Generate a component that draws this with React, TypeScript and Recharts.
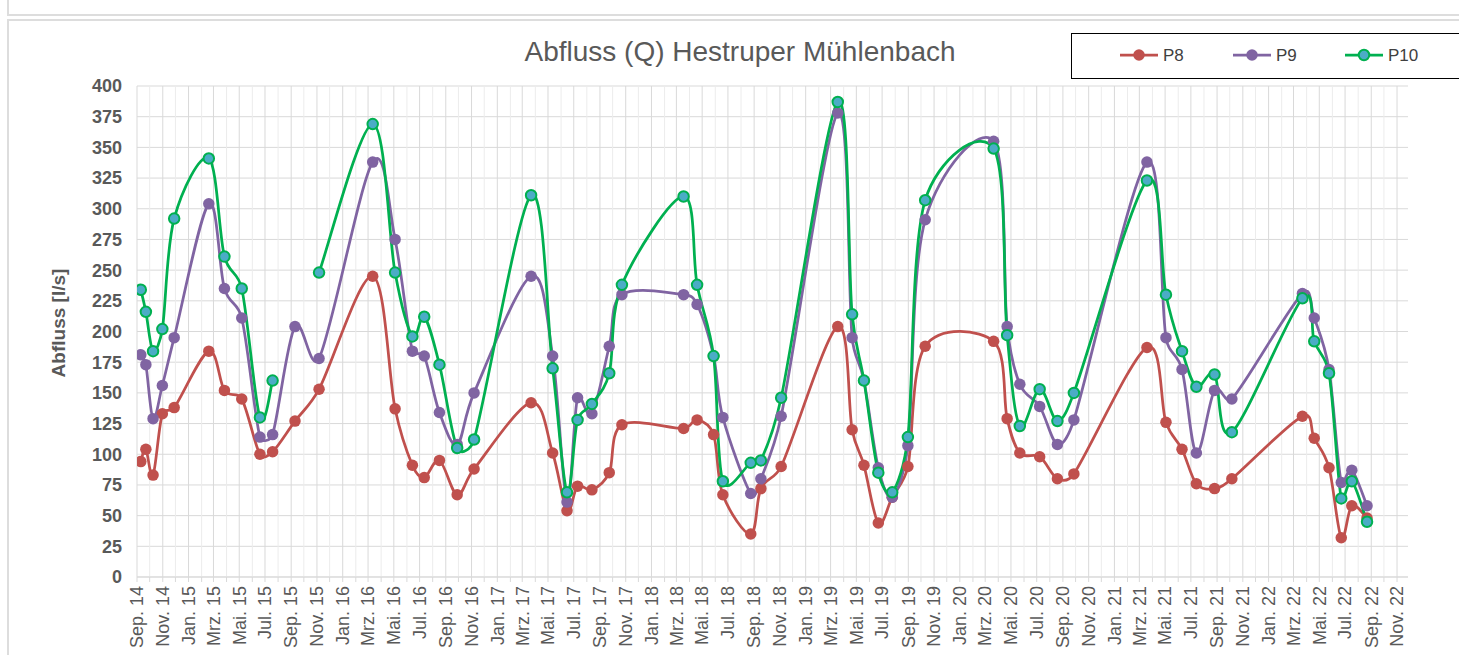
import React from "react";
import { LineChart, Line, XAxis, YAxis, CartesianGrid, ReferenceLine } from "recharts";

const FONT = '"Liberation Sans", Arial, sans-serif';

// Messtermine
const dates = [
  "2014-09-10", "2014-09-22", "2014-10-09", "2014-10-31", "2014-11-28",
  "2015-02-18", "2015-03-27", "2015-05-07", "2015-06-19", "2015-07-19",
  "2015-09-10", "2015-11-06", "2016-03-12", "2016-05-04", "2016-06-14",
  "2016-07-12", "2016-08-17", "2016-09-28", "2016-11-07", "2017-03-22",
  "2017-05-12", "2017-06-15", "2017-07-10", "2017-08-13", "2017-09-23",
  "2017-10-23", "2018-03-18", "2018-04-19", "2018-05-28", "2018-06-19",
  "2018-08-24", "2018-09-17", "2018-11-04", "2019-03-18", "2019-04-21",
  "2019-05-19", "2019-06-22", "2019-07-25", "2019-08-31", "2019-10-11",
  "2020-03-21", "2020-04-22", "2020-05-22", "2020-07-08", "2020-08-19",
  "2020-09-27", "2021-03-19", "2021-05-03", "2021-06-10", "2021-07-14",
  "2021-08-26", "2021-10-06", "2022-03-22", "2022-04-19", "2022-05-24",
  "2022-06-22", "2022-07-17", "2022-08-22"
];

const p8 = [
  94, 104, 83, 133, 138, 184, 152, 145, 100, 102,
  127, 153, 245, 137, 91, 81, 95, 67, 88, 142,
  101, 54, 74, 71, 85, 124, 121, 128, 116, 67,
  35, 72, 90, 204, 120, 91, 44, 65, 90, 188,
  192, 129, 101, 98, 80, 84, 187, 126, 104, 76,
  72, 80, 131, 113, 89, 32, 58, 48
];

const p9 = [
  181, 173, 129, 156, 195, 304, 235, 211, 114, 116,
  204, 178, 338, 275, 184, 180, 134, 108, 150, 245,
  180, 61, 146, 133, 188, 230, 230, 222, 180, 130,
  68, 80, 131, 378, 195, 160, 89, 65, 107, 291,
  355, 204, 157, 139, 108, 128, 338, 195, 169, 101,
  152, 145, 231, 211, 169, 77, 87, 58
];

// null = keine Messung (Linie unterbrochen)
const p10 = [
  234, 216, 184, 202, 292, 341, 261, 235, 130, 160,
  null, 248, 369, 248, 196, 212, 173, 105, 112, 311,
  170, 69, 128, 141, 166, 238, 310, 238, 180, 78,
  93, 95, 146, 387, 214, 160, 85, 69, 114, 307,
  349, 197, 123, 153, 127, 150, 323, 230, 184, 155,
  165, 118, 227, 192, 166, 64, 78, 45
];

const monthNames = ["Jan.", "Feb.", "Mrz.", "Apr.", "Mai.", "Jun.", "Jul.", "Aug.", "Sep.", "Okt.", "Nov.", "Dez."];
const yTicks = [0, 25, 50, 75, 100, 125, 150, 175, 200, 225, 250, 275, 300, 325, 350, 375, 400];

const xStart = Date.UTC(2014, 8, 1);
const xEnd = Date.UTC(2022, 10, 27);
const monthCount = 99;

const monthTicks: number[] = [];
for (let i = 0; i < monthCount; i++) monthTicks.push(Date.UTC(2014, 8 + i, 1));
const majorTicks = monthTicks.filter((_, i) => i % 2 === 0);
const minorTicks = monthTicks.filter((_, i) => i % 2 === 1);

const rows = dates.map((d, i) => ({ t: Date.parse(d), p8: p8[i], p9: p9[i], p10: p10[i] }));

const fmtMonth = (v: number) => {
  const d = new Date(v);
  return `${monthNames[d.getUTCMonth()]} ${String(d.getUTCFullYear()).slice(2)}`;
};

// Excel-artige Glättung: Catmull-Rom-Bezier, Hebel auf halbe Segmentlänge begrenzt
const excelCurve = (context: any) => {
  let pts: number[][] = [];
  const clampArm = (dx: number, dy: number, max: number) => {
    const len = Math.hypot(dx, dy);
    if (len > max && len > 0) return [(dx * max) / len, (dy * max) / len];
    return [dx, dy];
  };
  return {
    areaStart() {},
    areaEnd() {},
    lineStart() {
      pts = [];
    },
    point(x: number, y: number) {
      pts.push([+x, +y]);
    },
    lineEnd() {
      const n = pts.length;
      if (!n) return;
      context.moveTo(pts[0][0], pts[0][1]);
      for (let i = 0; i < n - 1; i++) {
        const p0 = pts[Math.max(i - 1, 0)];
        const p1 = pts[i];
        const p2 = pts[i + 1];
        const p3 = pts[Math.min(i + 2, n - 1)];
        const half = Math.hypot(p2[0] - p1[0], p2[1] - p1[1]) / 2;
        const a = clampArm((p2[0] - p0[0]) / 6, (p2[1] - p0[1]) / 6, half);
        const b = clampArm((p3[0] - p1[0]) / 6, (p3[1] - p1[1]) / 6, half);
        context.bezierCurveTo(p1[0] + a[0], p1[1] + a[1], p2[0] - b[0], p2[1] - b[1], p2[0], p2[1]);
      }
    }
  };
};

const XTick = (props: any) => {
  const { x, y, payload } = props;
  if (!majorTicks.includes(payload.value)) return null;
  return (
    <text
      x={x}
      y={y}
      transform={`rotate(-90 ${x} ${y})`}
      textAnchor="end"
      dy="0.35em"
      fontSize={18}
      fontFamily={FONT}
      fill="#595959"
    >
      {fmtMonth(payload.value)}
    </text>
  );
};

const series = [
  { key: "p8", name: "P8", color: "#C0504D", fill: "#C0504D" },
  { key: "p9", name: "P9", color: "#8064A2", fill: "#8064A2" },
  { key: "p10", name: "P10", color: "#00B050", fill: "#4BACC6" }
];

export default function App() {
  return (
    <div
      style={{
        position: "fixed",
        left: 0,
        top: 0,
        width: 1459,
        height: 655,
        overflow: "hidden",
        background: "#fff",
        fontFamily: FONT
      }}
    >
      {/* Rahmen der Seite */}
      <div style={{ position: "absolute", left: 7, top: -10, width: 1470, height: 22, border: "2px solid #dddddd" }} />
      <div style={{ position: "absolute", left: 7, top: 19, width: 1470, height: 700, border: "2px solid #dddddd" }} />

      <div style={{ position: "absolute", left: 0, top: 0 }}>
        <LineChart width={1459} height={655} data={rows} margin={{ top: 86, right: 51, bottom: 0, left: 30 }}>
          <CartesianGrid vertical={false} stroke="#d9d9d9" />
          {minorTicks.map((t) => (
            <ReferenceLine key={`m${t}`} x={t} stroke="#ececec" strokeWidth={1} />
          ))}
          {majorTicks.map((t) => (
            <ReferenceLine key={`M${t}`} x={t} stroke="#d9d9d9" strokeWidth={1} />
          ))}
          <XAxis
            type="number"
            dataKey="t"
            domain={[xStart, xEnd]}
            ticks={monthTicks}
            interval={0}
            allowDataOverflow
            height={78}
            tick={<XTick />}
            tickSize={5}
            tickMargin={4}
            tickLine={{ stroke: "#d9d9d9" }}
            axisLine={{ stroke: "#d9d9d9" }}
          />
          <YAxis
            domain={[0, 400]}
            ticks={yTicks}
            interval={0}
            width={107}
            axisLine={false}
            tickLine={false}
            tickSize={0}
            tickMargin={15}
            tick={{ fontSize: 18, fontWeight: "bold", fill: "#595959", fontFamily: FONT }}
          />
          {series.map((s) => (
            <Line
              key={s.key}
              dataKey={s.key}
              name={s.name}
              type={excelCurve as any}
              stroke={s.color}
              strokeWidth={2.75}
              connectNulls={false}
              dot={
                s.key === "p10"
                  ? { r: 5.25, fill: s.fill, stroke: s.color, strokeWidth: 2 }
                  : { r: 5.75, fill: s.fill, stroke: s.color, strokeWidth: 0 }
              }
              activeDot={false}
              isAnimationActive={false}
            />
          ))}
        </LineChart>
      </div>

      {/* Titel, Achsentitel und Legende */}
      <svg width={1459} height={655} style={{ position: "absolute", left: 0, top: 0, pointerEvents: "none" }}>
        <text x={740} y={61} textAnchor="middle" fontSize={28} fill="#595959" fontFamily={FONT}>
          Abfluss (Q) Hestruper Mühlenbach
        </text>
        <text
          x={58}
          y={323}
          transform="rotate(-90 58 323)"
          textAnchor="middle"
          dy="0.35em"
          fontSize={19}
          fontWeight="bold"
          fill="#595959"
          fontFamily={FONT}
        >
          Abfluss [l/s]
        </text>
        <rect x={1071.5} y={33.5} width={420} height={45} fill="none" stroke="#000" strokeWidth={1} />
        {series.map((s, i) => {
          const x0 = [1120, 1233, 1345][i];
          return (
            <g key={s.key}>
              <line x1={x0} x2={x0 + 38} y1={55} y2={55} stroke={s.color} strokeWidth={2.75} />
              <circle
                cx={x0 + 19}
                cy={55}
                r={s.key === "p10" ? 5.25 : 5.75}
                fill={s.fill}
                stroke={s.color}
                strokeWidth={s.key === "p10" ? 2 : 0}
              />
              <text x={x0 + 43} y={55} dy="0.35em" fontSize={17} fill="#404040" fontFamily={FONT}>
                {s.name}
              </text>
            </g>
          );
        })}
      </svg>
    </div>
  );
}
